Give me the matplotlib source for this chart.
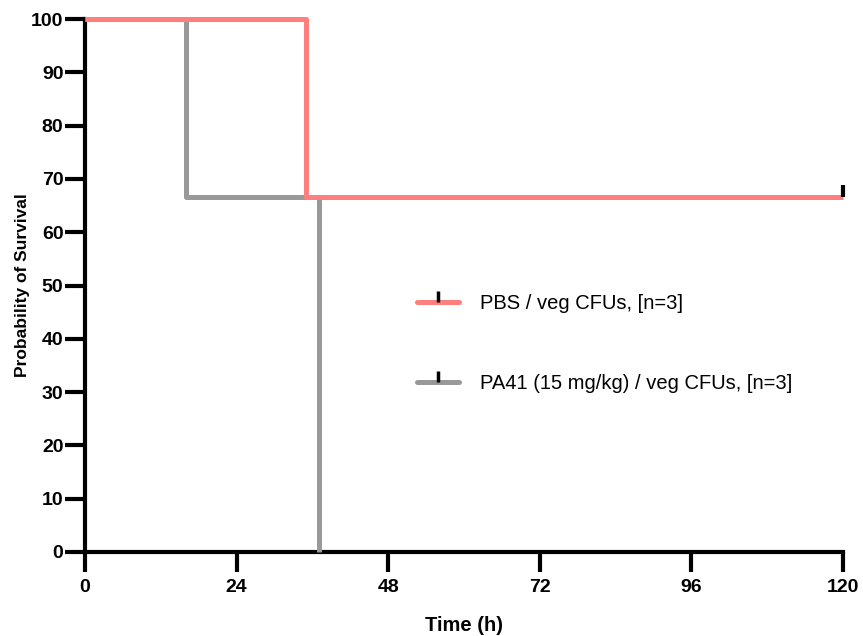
import matplotlib.pyplot as plt
from matplotlib.path import Path

# survival curves (Kaplan-Meier steps)
pbs_time = [0, 35, 120]
pbs_surv = [100, 66.67, 66.67]
pa41_time = [0, 16, 37]
pa41_surv = [100, 66.67, 0]

# censored points
pbs_cens_t = [120]
pbs_cens_s = [66.67]

labels = ['PBS / veg CFUs, [n=3]', 'PA41 (15 mg/kg) / veg CFUs, [n=3]']
xticks = [0, 24, 48, 72, 96, 120]
yticks = list(range(0, 101, 10))

red = '#ff7f7f'
gray = '#999999'

plt.rcParams['font.family'] = ['Liberation Sans', 'DejaVu Sans']

fig = plt.figure(figsize=(8.63, 6.36), dpi=100)
ax = fig.add_axes([85 / 863, 84 / 636, 758 / 863, 533 / 636])

# tick mark above the line, like the censor marker
up_tick = Path([(0, 0), (0, 1)], [Path.MOVETO, Path.LINETO])

ax.step(pbs_time, pbs_surv, where='post', color=red, lw=3.6, clip_on=False,
        solid_capstyle='butt', zorder=4)
ax.step(pa41_time, pa41_surv, where='post', color=gray, lw=3.6, clip_on=False,
        solid_capstyle='butt', zorder=3)
ax.plot(pbs_cens_t, pbs_cens_s, ls='none', marker=up_tick, ms=18, mew=3,
        mec='black', clip_on=False, zorder=5)

h1, = ax.plot([], [], color=red, lw=3.6, marker=up_tick, ms=16, mew=2.5,
              mec='black', solid_capstyle='round')
h2, = ax.plot([], [], color=gray, lw=3.6, marker=up_tick, ms=16, mew=2.5,
              mec='black', solid_capstyle='round')
ax.legend([h1, h2], labels, loc='center left', bbox_to_anchor=(0.427, 0.391),
          borderaxespad=0, frameon=False, fontsize=14.5, handlelength=2.1,
          handletextpad=1.05, labelspacing=3.0)

ax.set_xlim(0, 120)
ax.set_ylim(0, 100)
ax.set_xticks(xticks)
ax.set_yticks(yticks)
for s in ['top', 'right']:
    ax.spines[s].set_visible(False)
for s in ['left', 'bottom']:
    ax.spines[s].set_linewidth(3)
ax.tick_params(width=3, length=14.5, labelsize=14)
ax.tick_params(axis='x', pad=5)
ax.tick_params(axis='y', pad=1)
for lab in ax.get_xticklabels() + ax.get_yticklabels():
    lab.set_fontweight('bold')

ax.set_xlabel('Time (h)', fontsize=14.5, fontweight='bold', labelpad=14)
ax.set_ylabel('Probability of Survival', fontsize=12.5, fontweight='bold', labelpad=1)

fig.savefig('out.png', dpi=100)
